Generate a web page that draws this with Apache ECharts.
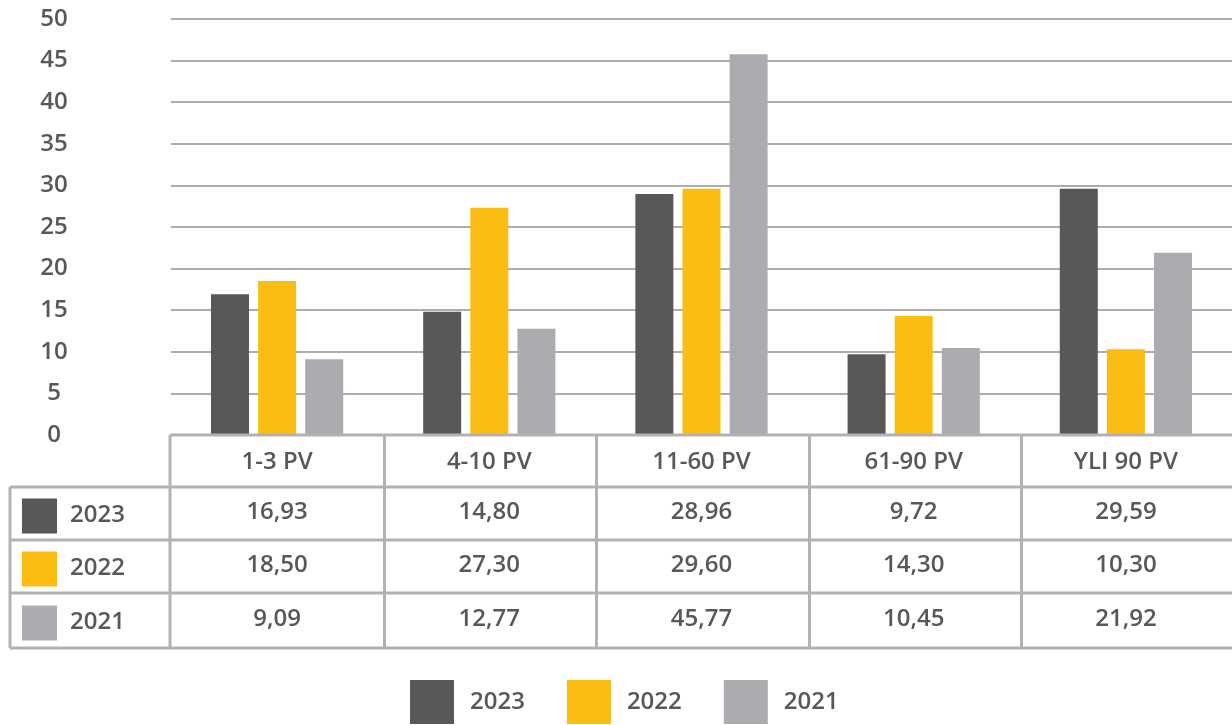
<!DOCTYPE html>
<html>
<head>
<meta charset="utf-8">
<script src="https://cdn.jsdelivr.net/npm/echarts@6/dist/echarts.min.js"></script>
<style>
html,body{margin:0;padding:0;background:#fff;}
#main{width:1232px;height:725px;}
</style>
</head>
<body>
<div id="main"></div>
<script>
const categories = ['1-3 PV', '4-10 PV', '11-60 PV', '61-90 PV', 'YLI 90 PV'];
const seriesNames = ['2023', '2022', '2021'];
const values2023 = [16.93, 14.80, 28.96, 9.72, 29.59];
const values2022 = [18.50, 27.30, 29.60, 14.30, 10.30];
const values2021 = [9.09, 12.77, 45.77, 10.45, 21.92];
const yTicks = [0, 5, 10, 15, 20, 25, 30, 35, 40, 45, 50];

const colors = ['#58585A', '#FBBC13', '#ACACB0'];
const textColor = '#58585A';
const lineColor = '#B2B2B6';
const FONT = 'Open Sans';
const FS = 24;

const gridLeft = 171, gridTop = 19, plotBottom = 435, W = 1232;
const rowEdges = [435, 487, 540, 593, 648];
const allValues = [values2023, values2022, values2021];

const chart = echarts.init(document.getElementById('main'), null, {renderer: 'canvas'});

function fmt(v) { return v.toFixed(2).replace('.', ','); }

const option = {
  animation: false,
  color: colors,
  grid: {left: gridLeft, right: 0, top: gridTop, bottom: 725 - plotBottom, containLabel: false},
  legend: {
    data: seriesNames,
    left: 410,
    top: 680,
    padding: 0,
    itemWidth: 44,
    itemHeight: 44,
    itemGap: 42,
    icon: 'rect',
    textStyle: {color: textColor, fontFamily: FONT, fontWeight: 600, fontSize: FS, padding: [0, 0, 0, 11]}
  },
  xAxis: {
    type: 'category',
    data: categories,
    axisLine: {show: false},
    axisTick: {show: false},
    axisLabel: {
      color: textColor, fontFamily: FONT, fontWeight: 600, fontSize: FS,
      margin: 27, verticalAlign: 'middle'
    }
  },
  yAxis: {
    type: 'value',
    min: yTicks[0],
    max: yTicks[yTicks.length - 1],
    interval: yTicks[1] - yTicks[0],
    axisLine: {show: false},
    axisTick: {show: false},
    axisLabel: {
      color: textColor, fontFamily: FONT, fontWeight: 600, fontSize: FS,
      align: 'center', margin: 117
    },
    splitLine: {lineStyle: {color: '#ADADB1', width: 2}}
  },
  series: seriesNames.map((n, i) => ({
    name: n,
    type: 'bar',
    data: allValues[i],
    barWidth: 38,
    barGap: '24%',
    itemStyle: {color: colors[i]}
  }))
};
chart.setOption(option);

// Build data table below the plot
const g = [];
const centers = categories.map((c, i) => chart.convertToPixel({xAxisIndex: 0}, i));
const half = (centers[1] - centers[0]) / 2;
const lw = 3;
function hline(x1, x2, y) {
  g.push({type: 'line', shape: {x1: x1, y1: y, x2: x2, y2: y}, style: {stroke: lineColor, lineWidth: lw}, z: 10});
}
function vline(x, y1, y2) {
  g.push({type: 'line', shape: {x1: x, y1: y1, x2: x, y2: y2}, style: {stroke: lineColor, lineWidth: lw}, z: 10});
}
hline(170, W, rowEdges[0]);
for (let r = 1; r < rowEdges.length; r++) hline(10, W, rowEdges[r]);
vline(10, rowEdges[1], rowEdges[4]);
vline(170, rowEdges[0], rowEdges[4]);
for (let i = 1; i < categories.length; i++) {
  vline(Math.round(centers[i] - half) + 1.5, rowEdges[0], rowEdges[4]);
}
for (let s = 0; s < seriesNames.length; s++) {
  const yc = (rowEdges[s + 1] + rowEdges[s + 2]) / 2;
  g.push({type: 'rect', shape: {x: 22, y: yc - 17 + 2, width: 35, height: 35}, style: {fill: colors[s]}, z: 10});
  g.push({type: 'text', x: 70, y: yc + 2, style: {text: seriesNames[s], fill: textColor, font: '600 ' + FS + 'px "' + FONT + '"', textAlign: 'left', textVerticalAlign: 'middle'}, z: 10});
  for (let c = 0; c < categories.length; c++) {
    g.push({type: 'text', x: centers[c], y: yc - 1, style: {text: fmt(allValues[s][c]), fill: textColor, font: '600 ' + FS + 'px "' + FONT + '"', textAlign: 'center', textVerticalAlign: 'middle'}, z: 10});
  }
}
chart.setOption({graphic: g});
</script>
</body>
</html>
